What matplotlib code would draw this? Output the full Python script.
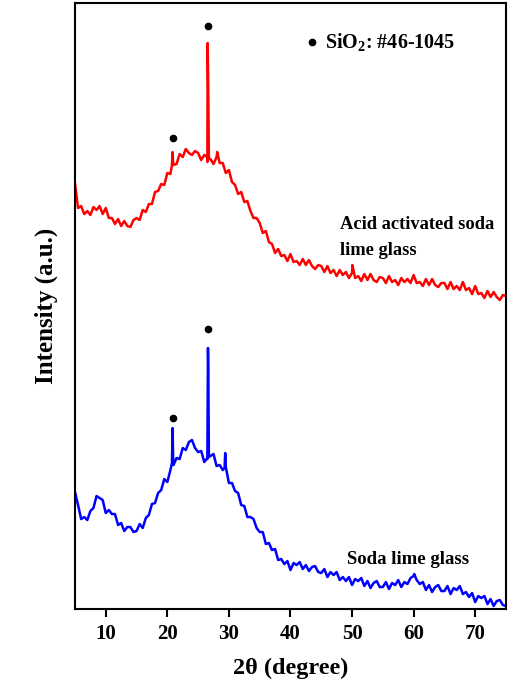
import numpy as np
import matplotlib
matplotlib.use("Agg")
import matplotlib.pyplot as plt

# XRD patterns (2theta step 0.5 deg, intensity in a.u.)
two_theta = np.arange(5.0, 75.01, 0.5)

acid_activated = [
    426, 401, 403, 395, 398, 394, 402, 399, 403, 395,
    401, 391, 391, 385, 390, 383, 388, 383, 382, 389,
    391, 389, 399, 397, 405, 405, 417, 418, 425, 424,
    436, 435, 444, 445, 455, 452, 460, 456, 454, 458,
    456, 449, 454, 447, 450, 445, 452, 446, 446, 436,
    439, 427, 424, 415, 417, 407, 408, 398, 391, 391,
    386, 376, 378, 367, 365, 356, 360, 353, 354, 348,
    355, 347, 348, 344, 350, 344, 349, 343, 340, 344,
    343, 337, 343, 336, 339, 333, 339, 334, 337, 331,
    336, 331, 333, 328, 335, 329, 335, 329, 327, 332,
    331, 326, 333, 327, 329, 324, 331, 327, 330, 326,
    334, 326, 327, 323, 330, 324, 330, 324, 322, 326,
    326, 320, 327, 320, 323, 319, 327, 319, 321, 315,
    323, 315, 316, 311, 318, 312, 317, 312, 309, 314,
    313,
]

soda_lime = [
    117, 104, 90, 92, 89, 98, 101, 113, 111, 109,
    96, 99, 95, 95, 84, 86, 78, 82, 82, 77,
    78, 85, 81, 91, 94, 105, 106, 116, 119, 130,
    127, 139, 144, 151, 150, 161, 159, 167, 169, 161,
    157, 158, 147, 151, 153, 155, 143, 144, 139, 142,
    126, 126, 118, 116, 104, 103, 92, 92, 90, 81,
    77, 77, 65, 66, 59, 60, 49, 50, 45, 48,
    39, 46, 44, 47, 40, 44, 38, 42, 43, 37,
    36, 40, 32, 37, 34, 37, 29, 32, 28, 32,
    24, 30, 28, 31, 23, 28, 21, 26, 28, 22,
    22, 27, 20, 26, 24, 29, 22, 27, 25, 31,
    33, 29, 25, 27, 19, 24, 17, 22, 24, 18,
    18, 23, 15, 21, 19, 23, 15, 17, 12, 16,
    7, 13, 11, 13, 5, 10, 3, 8, 9, 4,
    3,
]

# sharp crystalline reflections
acid_peak_x = [20.75, 20.85, 20.95, 26.45, 26.55, 26.65, 26.75, 28.1, 50.05]
acid_peak_y = [444, 457, 445, 452, 566, 516, 450, 457, 344]
soda_peak_x = [20.75, 20.85, 20.95, 26.5, 26.6, 26.65, 26.75, 29.3, 29.4, 60.1]
soda_peak_y = [146, 181, 148, 150, 261, 242, 152, 141, 156, 35]

# SiO2 markers
acid_mark_x = [20.88, 26.56]
acid_mark_y = [471, 583]
soda_mark_x = [20.88, 26.56]
soda_mark_y = [191, 280]


def merge(x, y, px, py):
    xs = np.concatenate([x, px])
    ys = np.concatenate([y, py])
    order = np.argsort(xs, kind="stable")
    return xs[order], ys[order]


plt.rcParams["font.family"] = "Liberation Serif"
plt.rcParams["font.weight"] = "bold"
plt.rcParams["mathtext.fontset"] = "custom"
plt.rcParams["mathtext.rm"] = "Liberation Serif:bold"
plt.rcParams["mathtext.it"] = "Liberation Serif:bold:italic"
plt.rcParams["mathtext.bf"] = "Liberation Serif:bold"

fig = plt.figure(figsize=(5.08, 6.84), dpi=100)
ax = fig.add_axes([0.1476, 0.1096, 0.8484, 0.886])

x1, y1 = merge(two_theta, np.array(acid_activated, float), acid_peak_x, acid_peak_y)
x2, y2 = merge(two_theta, np.array(soda_lime, float), soda_peak_x, soda_peak_y)
ax.plot(x1, y1, color="#ff0000", lw=1.8)
ax.plot(x2, y2, color="#0000ff", lw=1.8)

ax.plot(acid_mark_x, acid_mark_y, "o", color="black", ms=4.5)
ax.plot(soda_mark_x, soda_mark_y, "o", color="black", ms=4.5)

ax.plot([43.57], [567], "o", color="black", ms=4.5)
ax.text(45.6, 567, r"SiO$_\mathrm{2}$: #46-1045", fontsize=14.5, fontweight="bold",
        va="center", ha="left")
ax.text(48.1, 385, "Acid activated soda", fontsize=13.3, fontweight="bold",
        va="center", ha="left")
ax.text(48.1, 359, "lime glass", fontsize=13.3, fontweight="bold",
        va="center", ha="left")
ax.text(49.2, 50, "Soda lime glass", fontsize=13.5, fontweight="bold",
        va="center", ha="left")

ax.set_xlim(5, 75)
ax.set_ylim(0, 606)
ax.set_xticks([10, 20, 30, 40, 50, 60, 70])
ax.set_yticks([])
ax.tick_params(axis="x", direction="out", length=6, width=1.5, labelsize=15, pad=5)
for s in ax.spines.values():
    s.set_linewidth(1.5)

ax.set_xlabel("2\u03b8 (degree)", fontsize=17.5, fontweight="bold", labelpad=10)
ax.set_ylabel("Intensity (a.u.)", fontsize=18, fontweight="bold", labelpad=12)

fig.savefig("out.png", dpi=100)
